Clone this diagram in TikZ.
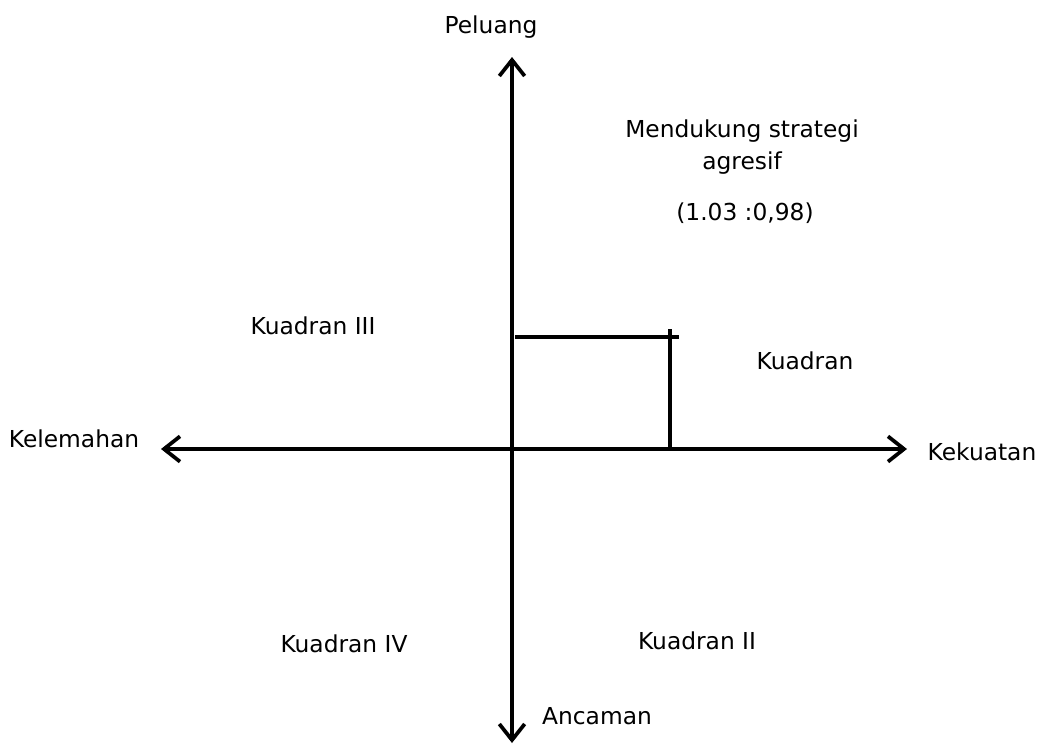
\documentclass[tikz,border=0pt]{standalone}
\usepackage{fontspec}
\setmainfont{DejaVu Sans}
\usetikzlibrary{arrows.meta, positioning}

\begin{document}
\begin{tikzpicture}[x=0.75pt, y=-0.75pt,
    axis/.style={line width=2.8pt, -{Straight Barb[length=12pt, width=19pt, line width=2.8pt]}},
    mark line/.style={line width=2.8pt},
    label/.style={font=\fontsize{17.5}{24}\selectfont, inner sep=0pt, align=center}]
  \useasboundingbox (0,0) rectangle (1047,746);
  \def\ox{512} % origin x
  \def\oy{449} % origin y

  % axes
  \coordinate (origin) at (\ox,\oy);
  \coordinate (top) at (\ox,57);
  \coordinate (bottom) at (\ox,743);
  \coordinate (left) at (161,\oy);
  \coordinate (right) at (907,\oy);
  \draw [axis] (origin) -- (top);
  \draw [axis] (origin) -- (bottom);
  \draw [axis] (origin) -- (left);
  \draw [axis] (origin) -- (right);

  % position point
  \coordinate (hstart) at (515,337);
  \coordinate (hend) at (679,337);
  \coordinate (vtop) at (670,329);
  \coordinate (vbot) at (670,\oy);
  \draw [mark line] (hstart) -- (hend);
  \draw [mark line] (vtop) -- (vbot);

  % axis labels
  \node [label] (peluang) at (491,27) {Peluang};
  \node [label] (ancaman) at (597,716) {Ancaman};
  \node [label] (kelemahan) at (74,439) {Kelemahan};
  \node [label] (kekuatan) at (982,452) {Kekuatan};

  % quadrant labels
  \node [label] (strategi) at (742,147) {Mendukung strategi\\agresif};
  \node [label] (nilai) at (745,213) {(1.03 :0,98)};
  \node [label] (q3) at (313,326) {Kuadran III};
  \node [label] (q1) at (805,361) {Kuadran};
  \node [label] (q4) at (344,644) {Kuadran IV};
  \node [label] (q2) at (697,641) {Kuadran II};
\end{tikzpicture}
\end{document}
